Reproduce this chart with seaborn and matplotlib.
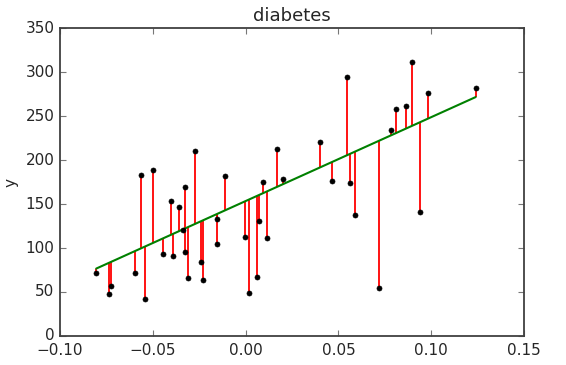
import numpy as np
import pandas as pd
import matplotlib
matplotlib.use("Agg")
import matplotlib.pyplot as plt
import seaborn as sns

x_vals = [-0.0805, -0.0737, -0.0727, -0.0596, -0.0566, -0.0542, -0.0499, -0.0445,
          -0.0402, -0.0392, -0.0359, -0.0327, -0.0336, -0.0327, -0.0309,
          -0.0273, -0.0241, -0.0230, -0.0156, -0.0155, -0.0112, -0.0004, 0.0018,
          0.0063, 0.0074, 0.0095, 0.0117, 0.0171, 0.0203, 0.0400,
          0.0463, 0.0548, 0.0560, 0.0591, 0.0720, 0.0785, 0.0808, 0.0862,
          0.0894, 0.0938, 0.0981, 0.1239]
y_vals = [72, 48, 57, 72, 183, 42, 189, 93,
          153, 91, 147, 169, 121, 95, 66,
          210, 84, 64, 133, 104, 182, 113, 49,
          67, 131, 175, 111, 213, 179, 221,
          176, 294, 174, 137, 55, 234, 258, 262,
          311, 141, 276, 282]
slope = 954.0
intercept = 153.4
title = "diabetes"
ylabel = "y"
xticks = [-0.10, -0.05, 0.00, 0.05, 0.10, 0.15]
yticks = [0, 50, 100, 150, 200, 250, 300, 350]

df = pd.DataFrame({"x": x_vals, "y": y_vals})
df["pred"] = intercept + slope * df["x"]

plt.style.use("classic")
sns.set_style("ticks", {"xtick.direction": "in", "ytick.direction": "in"})
plt.rcParams["font.family"] = ["DejaVu Sans"]

fig = plt.figure(figsize=(5.66, 3.65), dpi=100, facecolor="white")
ax = fig.add_axes([0.106, 0.0795, 0.82, 0.8435])

ax.vlines(df["x"], df["y"], df["pred"], colors="red", linewidth=1.3, zorder=2)
line_df = df.sort_values("x")
sns.lineplot(data=line_df, x="x", y="pred", color="green", linewidth=1.5, ax=ax, zorder=3)
sns.scatterplot(data=df, x="x", y="y", color="black", s=13, edgecolor="black",
                linewidth=0.5, ax=ax, zorder=4)

ax.set_xlim(-0.10, 0.15)
ax.set_ylim(0, 350)
ax.set_xticks(xticks)
ax.set_xticklabels([f"{t:.2f}".replace("-", "\u2212") for t in xticks])
ax.set_yticks(yticks)
ax.set_xlabel("")
ax.set_ylabel(ylabel, fontsize=11)
ax.set_title(title, fontsize=13)
ax.tick_params(axis="both", which="both", direction="in", top=True, right=True,
               labelsize=11, length=4, width=0.8, color="#777777")
ax.tick_params(axis="x", pad=5)
for sp in ax.spines.values():
    sp.set_visible(True)
    sp.set_linewidth(1.3)
    sp.set_color("#404040")

fig.savefig("out.png", dpi=100, facecolor="white")
